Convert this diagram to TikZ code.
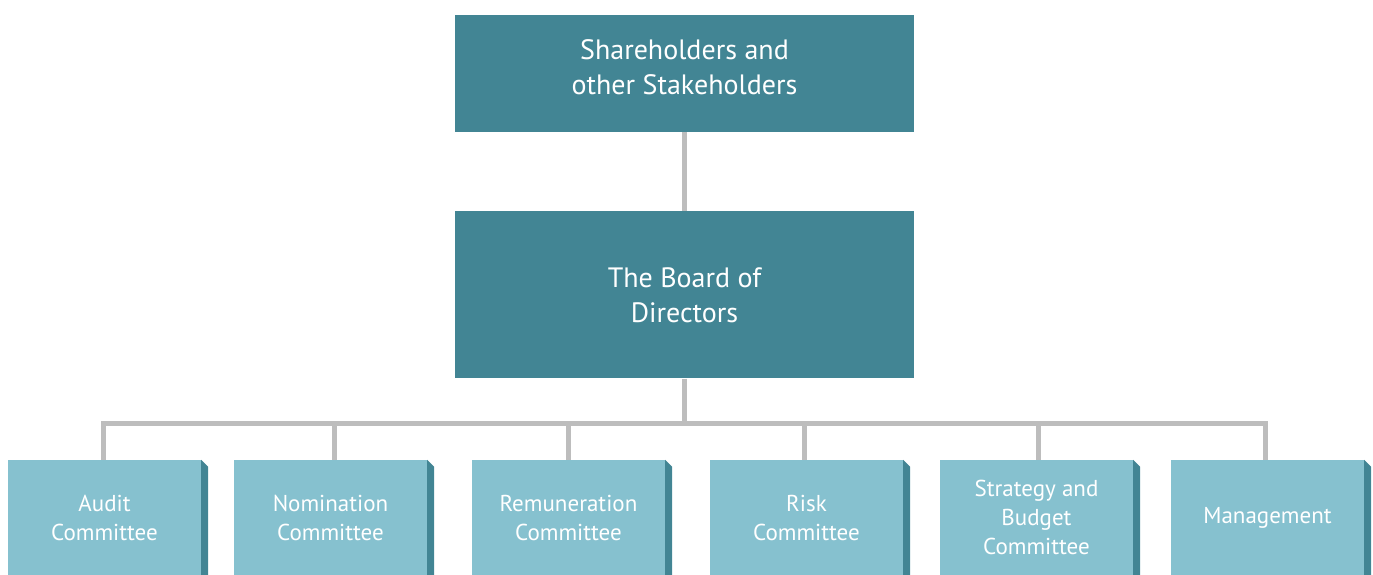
\documentclass[tikz,border=0pt]{standalone}
\usepackage{fontspec}
\setmainfont{PT Sans}
\usetikzlibrary{positioning}
\definecolor{boardteal}{HTML}{428594}
\definecolor{cmtblue}{HTML}{86C1CF}
\definecolor{linkgray}{HTML}{BDBDBD}

\begin{document}
\begin{tikzpicture}[x=1pt, y=-1pt,
    % Dark boxes for the upper levels
    top box/.style={fill=boardteal, text=white, minimum width=459pt, inner sep=0pt,
      align=center, font=\fontsize{28}{35}\selectfont},
    % Light boxes for the committees
    cmt box/.style={fill=cmtblue, text=white, minimum width=193pt, minimum height=115pt,
      inner sep=0pt, align=center, font=\fontsize{23}{29}\selectfont},
    % Gray connectors
    link/.style={draw=linkgray, line width=5pt}
  ]
  \useasboundingbox (0,0) rectangle (1373,575);

  % --- Upper levels ---
  \node[top box, minimum height=117pt] (holders) at (684.5,73.5)
    {Shareholders and\\other Stakeholders\\[-22pt]};
  \node[top box, minimum height=167pt, below=79pt of holders] (board)
    {The Board of\\Directors};

  \draw[link] (holders.south) -- (board.north);
  \coordinate (bar) at (684.5,423.5);
  \draw[link] (board.south) -- (bar);

  % --- Committees (\off: where the drop meets the box) ---
  \foreach \x/\off/\name/\txt in {104.5/-1.5/audit/{Audit\\Committee},
      330.5/4/nomination/{Nomination\\Committee},
      568.5/0/remuneration/{Remuneration\\Committee},
      806.5/-2.5/risk/{Risk\\Committee},
      1036.5/1.5/strategy/{Strategy and\\Budget\\Committee},
      1267.5/-2.5/management/{Management}} {
    \node[cmt box] (\name) at (\x,517.5) {\txt};
    \fill[boardteal] (\name.north east) -- ++(7,7) -- ([xshift=7pt]\name.south east)
      -- (\name.south east) -- cycle;
    \draw[link] (bar) -| ([xshift=\off pt]\name.north);
  }
\end{tikzpicture}
\end{document}
